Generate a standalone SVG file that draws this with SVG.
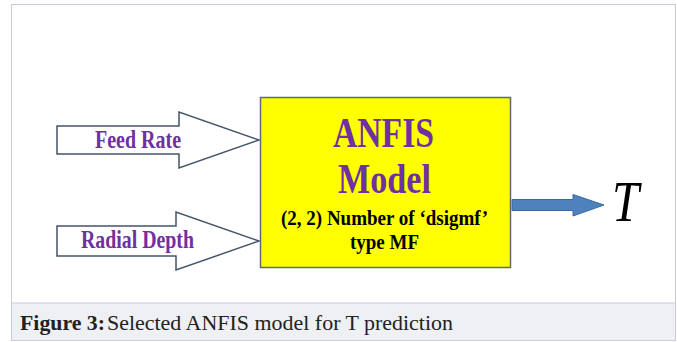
<svg xmlns="http://www.w3.org/2000/svg" width="677" height="342" viewBox="0 0 677 342">
<style>
.in{fill:#ffffff;stroke:#44546a;stroke-width:1.5}
.lbl{font-family:'Liberation Serif',serif;font-weight:bold;fill:#7030a0}
.blk{font-family:'Liberation Serif',serif;font-weight:bold;fill:#000}
.cap{font-family:'Liberation Serif',serif;font-size:22px;fill:#222}
</style>
<rect x="0" y="0" width="677" height="342" fill="#ffffff"/>
<rect x="11.5" y="4.5" width="664" height="336" fill="#ffffff" stroke="#c9cadb" stroke-width="1"/>
<rect x="12" y="303" width="663" height="37" fill="#eef0f3"/>
<line x1="12" y1="303" x2="675" y2="303" stroke="#c9cadb" stroke-width="1"/>
<g id="connectors">
<g id="feed-rate">
<polygon class="in" points="57,126 179,126 179,112 259,140 179,168 179,154 57,154"/>
<text class="lbl" x="95" y="148" font-size="25" textLength="86" lengthAdjust="spacingAndGlyphs">Feed Rate</text>
</g>
<g id="radial-depth">
<polygon class="in" points="57,226 176,226 176,212 259,241 176,270 176,256 57,256"/>
<text class="lbl" x="81" y="248" font-size="25" textLength="113" lengthAdjust="spacingAndGlyphs">Radial Depth</text>
</g>
<g id="output">
<polygon points="512,199.5 573,199.5 573,194.5 604,205 573,216 573,210.5 512,210.5" fill="#4f81bd" stroke="#3c6aa0" stroke-width="1"/>
</g>
</g>
<g id="anfis">
<rect x="260.5" y="97.5" width="250" height="170" fill="#ffff00" stroke="#5b6b70" stroke-width="1.5"/>
<text class="lbl" x="333" y="147" font-size="42" textLength="101" lengthAdjust="spacingAndGlyphs">ANFIS</text>
<text class="lbl" x="338" y="193" font-size="42" textLength="93" lengthAdjust="spacingAndGlyphs">Model</text>
<text class="blk" x="281" y="225" font-size="22" textLength="207" lengthAdjust="spacingAndGlyphs">(2, 2) Number of ‘dsigmf’</text>
<text class="blk" x="350" y="249" font-size="22" textLength="69" lengthAdjust="spacingAndGlyphs">type MF</text>
</g>
<g id="T">
<text x="612" y="221" font-family="Liberation Serif,serif" font-style="italic" font-size="56" fill="#000" textLength="27" lengthAdjust="spacingAndGlyphs">T</text>
</g>
<text class="cap" x="20" y="330" font-weight="bold" textLength="85" lengthAdjust="spacingAndGlyphs">Figure 3:</text>
<text class="cap" x="107" y="330" textLength="346" lengthAdjust="spacingAndGlyphs">Selected ANFIS model for T prediction</text>
</svg>
